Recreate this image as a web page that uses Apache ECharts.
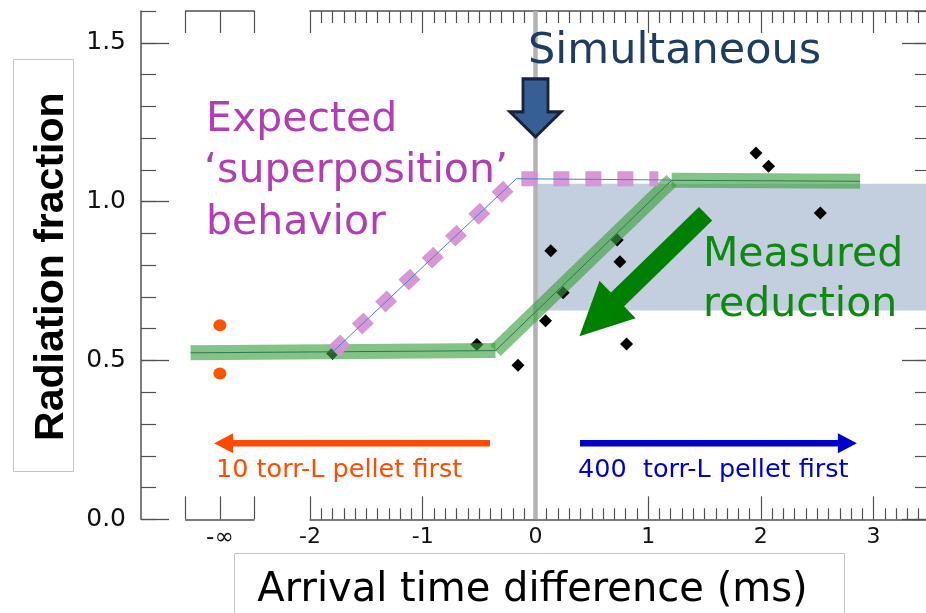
<!DOCTYPE html>
<html>
<head>
<meta charset="utf-8">
<script src="https://cdn.jsdelivr.net/npm/echarts@6/dist/echarts.min.js"></script>
<style>html,body{margin:0;padding:0;background:#fff}#c{width:926px;height:613px}</style>
</head>
<body>
<div id="c"></div>
<script>
// ---- data ----
const NEG_INF_X = -2.80;                 // position of the "-∞" column
const yMajorTicks = [0, 0.5, 1.0, 1.5];
const xMainTicks = [-2, -1, 0, 1, 2, 3];

// measured shots (black diamonds)
const shotX = [-1.80, -0.52, -0.155, 0.089, 0.136, 0.245, 0.725, 0.749, 0.808, 1.956, 2.068, 2.527];
const shotY = [0.522, 0.550, 0.485, 0.625, 0.845, 0.713, 0.879, 0.811, 0.552, 1.153, 1.111, 0.964];

// single-pellet references at -infinity (orange dots)
const refY = [0.611, 0.459];

// measured trend (green band), three segments
const bandX = [-3.06, -0.355, 1.208, 2.88];
const bandY = [0.524, 0.531, 1.067, 1.064];

// expected superposition (pink dashes + thin blue line)
const expX = [-1.79, -0.17, 1.09];
const expY = [0.530, 1.072, 1.072];
const expLineX = [-1.79, -0.17, 1.208];
const expLineY = [0.530, 1.072, 1.068];

// shaded "measured reduction" band
const shadeX = [0, 3.5];
const shadeY = [0.657, 1.056];

// annotation arrows (tail x, head-centre x, y)
const orangeArrow = { x: [-0.404, -2.767], y: 0.239 };
const blueArrow = { x: [0.395, 2.767], y: 0.239 };
const greenArrow = { x: [1.509, 0.559], y: [0.962, 0.634] };
const simArrow = { x: 0, y: 1.295 };

// ---- chart ----
const chart = echarts.init(document.getElementById('c'), null, { renderer: 'canvas' });
const AX = '#505050';
const FONT = 'DejaVu Sans';

const pairs = (xs, ys) => xs.map((x, i) => [x, ys[i]]);

const bandSeries = [0, 1, 2].map(i => ({
  type: 'line', xAxisIndex: 0, yAxisIndex: 0, z: 4, symbol: 'none', silent: true,
  data: [[bandX[i], bandY[i]], [bandX[i + 1], bandY[i + 1]]],
  lineStyle: { color: 'rgba(58,160,62,0.63)', width: 15, cap: 'butt' }
}));

const line = (extra) => Object.assign({ onZero: false, lineStyle: { color: AX, width: 1.5 } }, extra || {});

const option = {
  animation: false,
  backgroundColor: '#fff',
  grid: [
    { left: 141, width: 789, top: 11, height: 508.3, outerBoundsMode: 'none', containLabel: false },
    { left: 185.7, width: 68.3, top: 11, height: 508.3, outerBoundsMode: 'none', containLabel: false },
    { left: 310, width: 676.3, top: 11, height: 508.3, outerBoundsMode: 'none', containLabel: false }
  ],
  xAxis: [
    { gridIndex: 0, type: 'value', min: -3.5, max: 3.5, show: false, axisLine: { onZero: false } },
    { gridIndex: 1, type: 'value', min: -1, max: 1, interval: 1, position: 'bottom',
      axisLine: line(),
      axisTick: { inside: true, length: 23, lineStyle: { color: AX, width: 1.2 } },
      axisLabel: { formatter: v => (v === 0 ? '-∞' : ''), margin: 7, color: '#111', fontFamily: FONT, fontSize: 23 },
      splitLine: { show: false } },
    { gridIndex: 1, type: 'value', min: -1, max: 1, interval: 1, position: 'top',
      axisLine: line(),
      axisTick: { inside: true, length: 22, lineStyle: { color: AX, width: 1.2 } },
      axisLabel: { show: false }, splitLine: { show: false } },
    { gridIndex: 2, type: 'value', min: -2, max: 4, interval: 1, position: 'bottom',
      axisLine: line(),
      axisTick: { inside: true, length: 23, lineStyle: { color: AX, width: 1.2 } },
      minorTick: { show: true, splitNumber: 10, length: 11, lineStyle: { color: AX, width: 1.2 } },
      axisLabel: { formatter: v => (xMainTicks.indexOf(v) >= 0 ? String(v) : ''), margin: 7, color: '#111', fontFamily: FONT, fontSize: 22 },
      splitLine: { show: false }, minorSplitLine: { show: false } },
    { gridIndex: 2, type: 'value', min: -2, max: 4, interval: 1, position: 'top',
      axisLine: line(),
      axisTick: { inside: true, length: 22, lineStyle: { color: AX, width: 1.2 } },
      minorTick: { show: true, splitNumber: 10, length: 12, lineStyle: { color: AX, width: 1.2 } },
      axisLabel: { show: false }, splitLine: { show: false }, minorSplitLine: { show: false } }
  ],
  yAxis: [
    { gridIndex: 0, type: 'value', min: 0, max: 1.6, position: 'left',
      axisLine: line({ show: true }),
      axisTick: { show: true, inside: true, length: 28, customValues: yMajorTicks, lineStyle: { color: AX, width: 1.3 } },
      axisLabel: { customValues: yMajorTicks, formatter: v => v.toFixed(1), margin: 15, color: '#111', fontFamily: FONT, fontSize: 25 },
      splitLine: { show: false } },
    { gridIndex: 0, type: 'value', min: 0, max: 1.6, interval: 0.1, position: 'left',
      axisLine: { show: false, onZero: false },
      axisTick: { show: true, inside: true, length: 15, lineStyle: { color: AX, width: 1.2 } },
      axisLabel: { show: false }, splitLine: { show: false } },
    { gridIndex: 0, type: 'value', min: 0, max: 1.6, position: 'right',
      axisLine: line({ show: true }),
      axisTick: { show: true, inside: true, length: 28, customValues: yMajorTicks, lineStyle: { color: AX, width: 1.3 } },
      axisLabel: { show: false }, splitLine: { show: false } },
    { gridIndex: 0, type: 'value', min: 0, max: 1.6, interval: 0.1, position: 'right',
      axisLine: { show: false, onZero: false },
      axisTick: { show: true, inside: true, length: 15, lineStyle: { color: AX, width: 1.2 } },
      axisLabel: { show: false }, splitLine: { show: false } },
    { gridIndex: 1, type: 'value', min: 0, max: 1.6, show: false, axisLine: { onZero: false } },
    { gridIndex: 2, type: 'value', min: 0, max: 1.6, show: false, axisLine: { onZero: false } }
  ],
  series: [
    { type: 'line', xAxisIndex: 0, yAxisIndex: 0, data: [], z: 1, silent: true,
      markArea: { silent: true, itemStyle: { color: '#c3cedf', opacity: 1 },
        data: [[{ coord: [shadeX[0], shadeY[0]] }, { coord: [shadeX[1], shadeY[1]] }]] } },
    { type: 'line', xAxisIndex: 0, yAxisIndex: 0, z: 2, symbol: 'none', silent: true,
      data: [[0, 0], [0, 1.6]], lineStyle: { color: '#b3b3b3', width: 4.5 } },
    { type: 'scatter', xAxisIndex: 0, yAxisIndex: 0, z: 3, symbol: 'diamond', symbolSize: 13,
      data: pairs(shotX, shotY), itemStyle: { color: '#000', opacity: 1 } },
    ...bandSeries,
    { type: 'line', xAxisIndex: 0, yAxisIndex: 0, z: 5, symbol: 'none', silent: true,
      data: pairs(bandX, bandY), lineStyle: { color: '#2a7a4e', width: 1 } },
    { type: 'line', xAxisIndex: 0, yAxisIndex: 0, z: 6, symbol: 'none', silent: true,
      data: pairs(expX, expY), lineStyle: { color: 'rgba(214,146,214,0.95)', width: 15, type: [16, 16], cap: 'butt' } },
    { type: 'line', xAxisIndex: 0, yAxisIndex: 0, z: 7, symbol: 'none', silent: true,
      data: pairs(expLineX, expLineY), lineStyle: { color: '#4a7fc6', width: 1 } },
    { type: 'scatter', xAxisIndex: 0, yAxisIndex: 0, z: 8, symbol: 'circle', symbolSize: [13, 12],
      data: refY.map(y => [NEG_INF_X, y]), itemStyle: { color: '#ff5500', opacity: 1 } },
    { type: 'line', xAxisIndex: 0, yAxisIndex: 0, z: 8, silent: true, showSymbol: true, symbol: 'none',
      lineStyle: { color: '#ff4a00', width: 6.5, cap: 'butt' }, itemStyle: { color: '#ff4a00', opacity: 1 },
      data: [{ value: [orangeArrow.x[0], orangeArrow.y], symbol: 'none' },
             { value: [orangeArrow.x[1], orangeArrow.y], symbol: 'triangle', symbolSize: [20, 19], symbolRotate: 90 }] },
    { type: 'line', xAxisIndex: 0, yAxisIndex: 0, z: 8, silent: true, showSymbol: true, symbol: 'none',
      lineStyle: { color: '#0000cc', width: 6.5, cap: 'butt' }, itemStyle: { color: '#0000cc', opacity: 1 },
      data: [{ value: [blueArrow.x[0], blueArrow.y], symbol: 'none' },
             { value: [blueArrow.x[1], blueArrow.y], symbol: 'triangle', symbolSize: [20, 19], symbolRotate: -90 }] },
    { type: 'line', xAxisIndex: 0, yAxisIndex: 0, z: 9, silent: true, showSymbol: true, symbol: 'none',
      lineStyle: { color: '#008000', width: 19, cap: 'butt' }, itemStyle: { color: '#008000', opacity: 1 },
      data: [{ value: [greenArrow.x[0], greenArrow.y[0]], symbol: 'none' },
             { value: [greenArrow.x[1], greenArrow.y[1]], symbol: 'triangle', symbolSize: [52, 53], symbolRotate: 134 }] },
    { type: 'scatter', xAxisIndex: 0, yAxisIndex: 0, z: 9, silent: true,
      symbol: 'path://M13,0 L38,0 L38,33 L51,33 L25.5,58 L0,33 L13,33 Z', symbolSize: [51, 58],
      data: [[simArrow.x, simArrow.y]],
      itemStyle: { color: '#365f96', borderColor: '#15243a', borderWidth: 3, opacity: 1 } }
  ],
  graphic: [
    { type: 'rect', z: 100, shape: { x: 13.5, y: 59.5, width: 60, height: 412 }, style: { fill: 'none', stroke: '#c4c4c4', lineWidth: 1 } },
    { type: 'rect', z: 100, shape: { x: 234.5, y: 553.5, width: 610, height: 80 }, style: { fill: 'none', stroke: '#c4c4c4', lineWidth: 1 } },
    { type: 'text', z: 100, x: 51.5, y: 266.7, rotation: Math.PI / 2,
      style: { text: 'Radiation fraction', x: 0, y: 0, fill: '#000', font: 'bold 41px "Liberation Sans"', align: 'center', verticalAlign: 'middle', textAlign: 'center', textVerticalAlign: 'middle' } },
    { type: 'text', z: 100, x: 532.5, y: 591,
      style: { text: 'Arrival time difference (ms)', fill: '#000', font: '40px "DejaVu Sans"', align: 'center', verticalAlign: 'middle', textAlign: 'center', textVerticalAlign: 'middle' } },
    { type: 'text', z: 100, x: 528, y: 52,
      style: { text: 'Simultaneous', fill: '#1f3d63', font: '43px "DejaVu Sans"', align: 'left', verticalAlign: 'middle', textAlign: 'left', textVerticalAlign: 'middle' } },
    { type: 'text', z: 100, x: 206, y: 120,
      style: { text: 'Expected', fill: '#b23db4', font: '41px "DejaVu Sans"', align: 'left', verticalAlign: 'middle', textAlign: 'left', textVerticalAlign: 'middle' } },
    { type: 'text', z: 100, x: 204, y: 171,
      style: { text: '\u2018superposition\u2019', fill: '#b23db4', font: '41px "DejaVu Sans"', align: 'left', verticalAlign: 'middle', textAlign: 'left', textVerticalAlign: 'middle' } },
    { type: 'text', z: 100, x: 206, y: 223.5,
      style: { text: 'behavior', fill: '#b23db4', font: '41px "DejaVu Sans"', align: 'left', verticalAlign: 'middle', textAlign: 'left', textVerticalAlign: 'middle' } },
    { type: 'text', z: 100, x: 703, y: 255,
      style: { text: 'Measured', fill: '#0b8a0b', font: '41px "DejaVu Sans"', align: 'left', verticalAlign: 'middle', textAlign: 'left', textVerticalAlign: 'middle' } },
    { type: 'text', z: 100, x: 703, y: 305,
      style: { text: 'reduction', fill: '#0b8a0b', font: '41px "DejaVu Sans"', align: 'left', verticalAlign: 'middle', textAlign: 'left', textVerticalAlign: 'middle' } },
    { type: 'text', z: 100, x: 216, y: 470,
      style: { text: '10 torr-L pellet first', fill: '#ff4d00', font: '25.5px "DejaVu Sans"', align: 'left', verticalAlign: 'middle', textAlign: 'left', textVerticalAlign: 'middle' } },
    { type: 'text', z: 100, x: 578, y: 470,
      style: { text: '400  torr-L pellet first', fill: '#0000cc', font: '25.5px "DejaVu Sans"', align: 'left', verticalAlign: 'middle', textAlign: 'left', textVerticalAlign: 'middle' } }
  ]
};
chart.setOption(option);
</script>
</body>
</html>
